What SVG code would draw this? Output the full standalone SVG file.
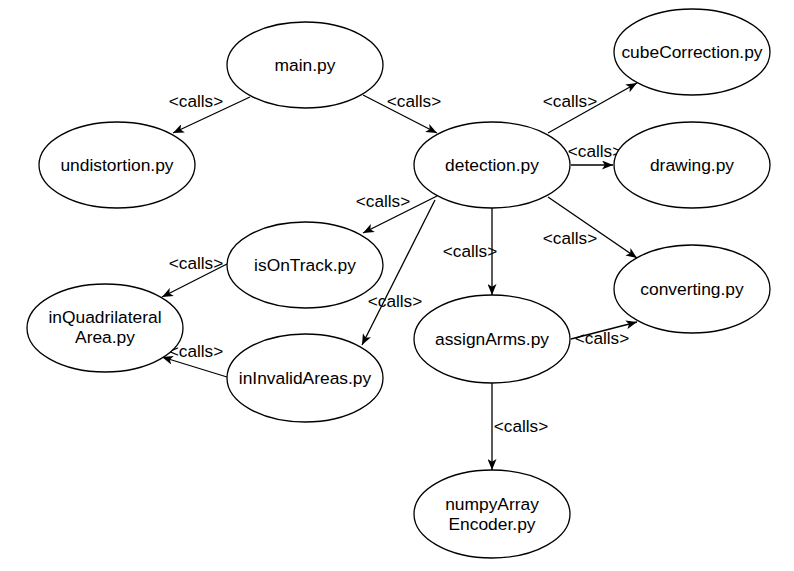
<svg xmlns="http://www.w3.org/2000/svg" width="794" height="571" viewBox="0 0 794 571">
<style>
.node ellipse{fill:#fff;stroke:#000;stroke-width:1.3}
.node text{font-family:"Liberation Sans",Arial,sans-serif;font-size:17.4px;fill:#000;text-anchor:middle}
.edges line{stroke:#000;stroke-width:1.3;fill:none;marker-end:url(#arr)}
.lbl{font-family:"Liberation Sans",Arial,sans-serif;font-size:17.2px;fill:#000;text-anchor:middle}
</style>
<defs>
<marker id="arr" markerUnits="userSpaceOnUse" viewBox="0 0 11 9" refX="11" refY="4.5" markerWidth="11" markerHeight="9" orient="auto">
<path d="M0,0 L11,4.5 L0,9 L2.8,4.5 Z" fill="#000"/>
</marker>
</defs>
<rect width="794" height="571" fill="#fff"/>
<g class="edges">
<line x1="250" y1="97" x2="173" y2="133"/>
<line x1="363" y1="95" x2="437" y2="133"/>
<line x1="548" y1="133" x2="637" y2="83"/>
<line x1="571" y1="165" x2="613" y2="165"/>
<line x1="437" y1="196" x2="363" y2="233"/>
<line x1="227" y1="264" x2="162" y2="297"/>
<line x1="435" y1="200" x2="362" y2="345"/>
<line x1="227" y1="377" x2="162" y2="357"/>
<line x1="492" y1="208" x2="492" y2="295"/>
<line x1="548" y1="197" x2="637" y2="258"/>
<line x1="571" y1="339" x2="637" y2="322"/>
<line x1="492" y1="383" x2="492" y2="470"/>
<text class="lbl" x="196" y="107">&lt;calls&gt;</text>
<text class="lbl" x="414" y="107">&lt;calls&gt;</text>
<text class="lbl" x="570" y="107">&lt;calls&gt;</text>
<text class="lbl" x="595" y="157">&lt;calls&gt;</text>
<text class="lbl" x="383" y="207">&lt;calls&gt;</text>
<text class="lbl" x="196" y="269">&lt;calls&gt;</text>
<text class="lbl" x="395" y="307">&lt;calls&gt;</text>
<text class="lbl" x="196" y="357">&lt;calls&gt;</text>
<text class="lbl" x="470" y="257">&lt;calls&gt;</text>
<text class="lbl" x="570" y="244">&lt;calls&gt;</text>
<text class="lbl" x="602" y="344">&lt;calls&gt;</text>
<text class="lbl" x="521" y="432">&lt;calls&gt;</text>
</g>
<g id="main" class="node"><ellipse cx="305" cy="65" rx="78" ry="43"/><text x="305" y="71">main.py</text></g>
<g id="undistortion" class="node"><ellipse cx="117" cy="165" rx="78" ry="43"/><text x="117" y="171">undistortion.py</text></g>
<g id="detection" class="node"><ellipse cx="492" cy="165" rx="78" ry="43"/><text x="492" y="171">detection.py</text></g>
<g id="cubeCorrection" class="node"><ellipse cx="692" cy="52" rx="78" ry="43"/><text x="692" y="58">cubeCorrection.py</text></g>
<g id="drawing" class="node"><ellipse cx="692" cy="165" rx="78" ry="43"/><text x="692" y="171">drawing.py</text></g>
<g id="converting" class="node"><ellipse cx="692" cy="289" rx="78" ry="44"/><text x="692" y="295">converting.py</text></g>
<g id="isOnTrack" class="node"><ellipse cx="305" cy="265" rx="78" ry="43"/><text x="305" y="271">isOnTrack.py</text></g>
<g id="inQuadrilateralArea" class="node"><ellipse cx="105" cy="328" rx="78" ry="44"/><text x="105" y="322.5">inQuadrilateral</text><text x="105" y="342.5">Area.py</text></g>
<g id="inInvalidAreas" class="node"><ellipse cx="305" cy="378" rx="78" ry="44"/><text x="305" y="384">inInvalidAreas.py</text></g>
<g id="assignArms" class="node"><ellipse cx="492" cy="339" rx="78" ry="44"/><text x="492" y="345">assignArms.py</text></g>
<g id="numpyArrayEncoder" class="node"><ellipse cx="492" cy="514" rx="78" ry="44"/><text x="492" y="510">numpyArray</text><text x="492" y="530">Encoder.py</text></g>
</svg>
